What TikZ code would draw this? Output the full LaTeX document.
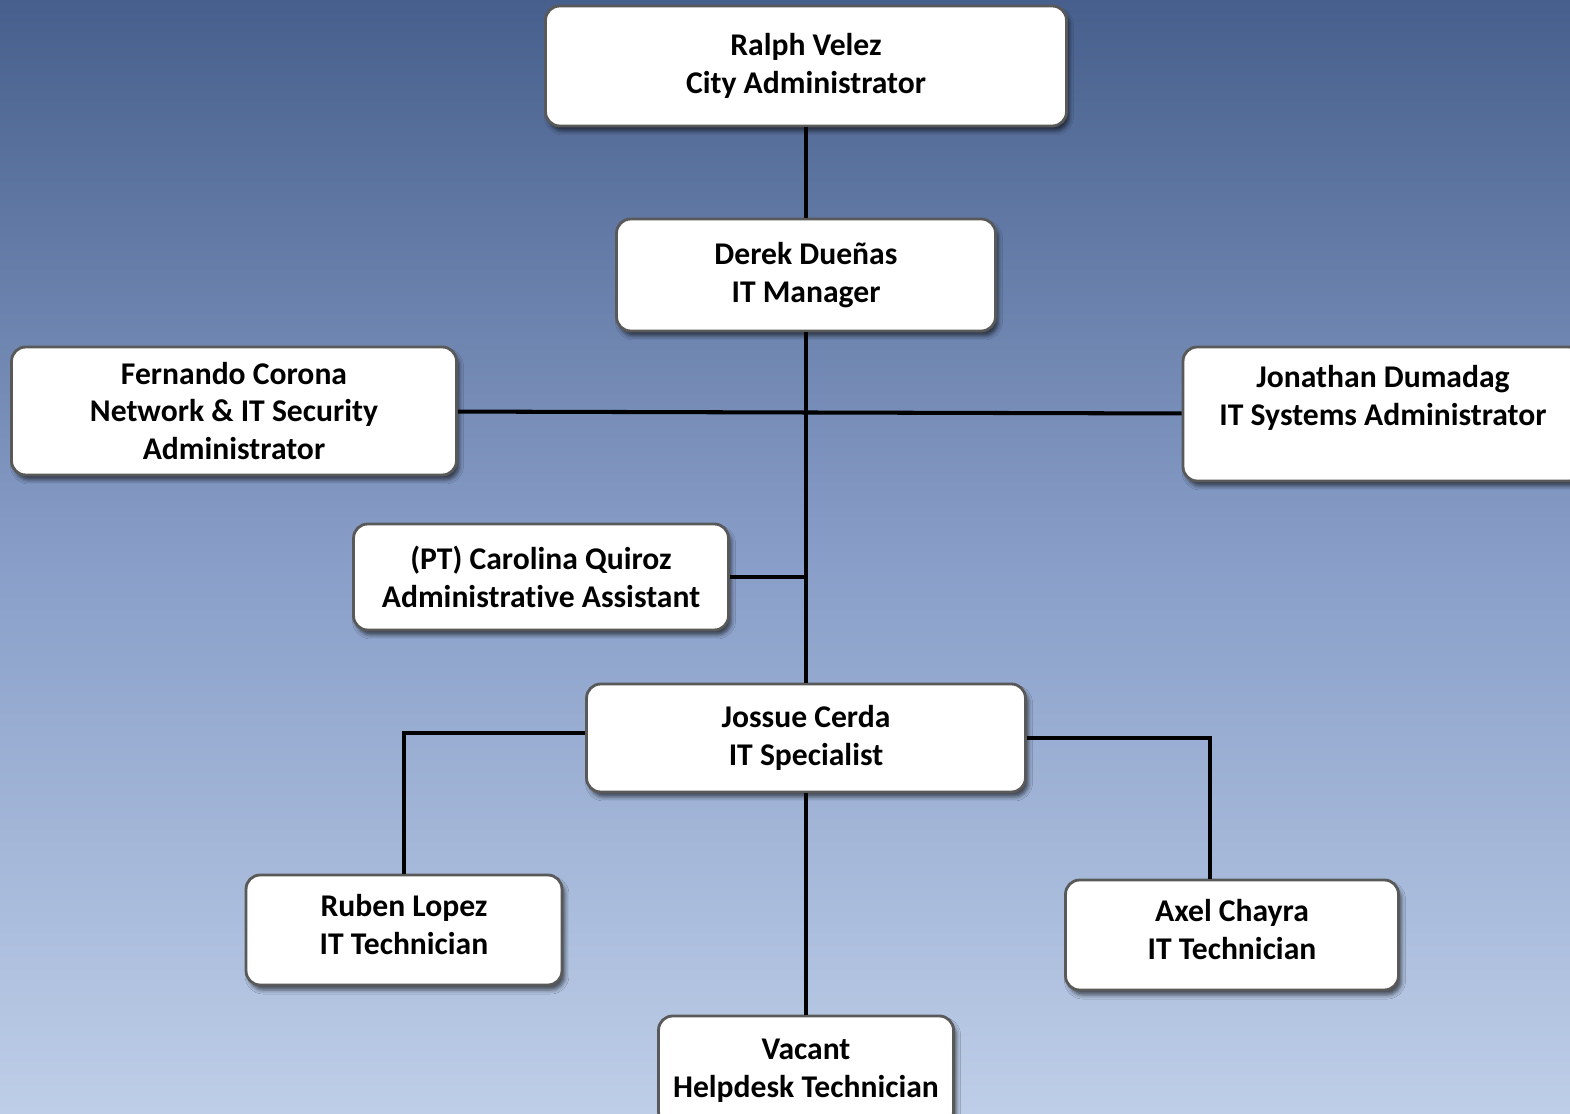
\documentclass[tikz,border=0pt]{standalone}
\usepackage{fontspec}
\setmainfont{Carlito}[Ligatures=NoCommon]
\usetikzlibrary{shadows.blur}

\tikzset{
  post/.style={draw=black!65, line width=1.6pt, fill=white, rounded corners=8pt,
    align=center, inner sep=2pt, font=\fontsize{18}{21.6}\selectfont\bfseries,
    blur shadow={shadow xshift=.06cm, shadow yshift=-.1cm, shadow blur radius=.08cm, shadow opacity=60}},
  link/.style={line width=2.3pt, black}
}

\begin{document}
\begin{tikzpicture}[x=0.02cm, y=-0.02cm]

 \useasboundingbox (0,0) rectangle (1570,1114);
 \clip (0,0) rectangle (1570,1114);
 \shade [top color={rgb,255:red,71;green,95;blue,140}, bottom color={rgb,255:red,190;green,206;blue,232},
   middle color={rgb,255:red,136;green,158;blue,200}] (0,0) rectangle (1570,1114);

 % boxes
 \node (ralph) at (806,66) [post, minimum width=10.42cm, minimum height=2.4cm] {Ralph Velez\\City Administrator};
 \node (derek) at (806,275) [post, minimum width=7.58cm, minimum height=2.24cm] {Derek Dueñas\\IT Manager};
 \node (fernando) at (234,411) [post, minimum width=8.9cm, minimum height=2.56cm] {Fernando Corona\\Network \& IT Security\\Administrator};
 \node (jonathan) at (1383,414) [post, minimum width=8cm, minimum height=2.68cm] {Jonathan Dumadag\\IT Systems Administrator\\\mbox{}};
 \node (carolina) at (541,577) [post, minimum width=7.5cm, minimum height=2.12cm] {(PT) Carolina Quiroz\\Administrative Assistant};
 \node (jossue) at (806,738) [post, minimum width=8.78cm, minimum height=2.16cm] {Jossue Cerda\\IT Specialist};
 \node (ruben) at (404,930) [post, minimum width=6.32cm, minimum height=2.2cm, text depth=.24cm] {Ruben Lopez\\IT Technician};
 \node (axel) at (1232,935) [post, minimum width=6.66cm, minimum height=2.2cm, text depth=.24cm] {Axel Chayra\\IT Technician};
 \node (vacant) at (806,1071) [post, minimum width=5.9cm, minimum height=2.2cm] {Vacant\\Helpdesk Technician};

 % lines
 \draw [link] (ralph) -- (derek);
 \draw [link] (derek) -- (jossue);
 \draw [link] (fernando) -- (jonathan);
 \draw [link] (carolina.east) -- (carolina.east -| derek.south);
 \draw [link] ([yshift=.1cm]jossue.west) -| (ruben);
 \draw [link] (jossue.east) -| ([xshift=-.44cm]axel.north);
 \draw [link] (jossue) -- (vacant);

\end{tikzpicture}
\end{document}
